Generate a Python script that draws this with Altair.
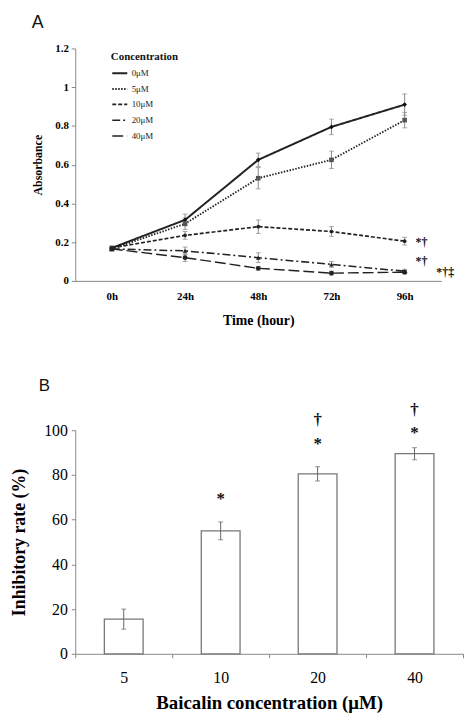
import altair as alt
import pandas as pd

# ---------------- Panel A data ----------------
times = ["0h", "24h", "48h", "72h", "96h"]
conc_labels = ["0μM", "5μM", "10μM", "20μM", "40μM"]
abs_0 = [0.17, 0.315, 0.625, 0.795, 0.91]
abs_5 = [0.165, 0.295, 0.53, 0.625, 0.83]
abs_10 = [0.17, 0.235, 0.28, 0.255, 0.205]
abs_20 = [0.165, 0.155, 0.12, 0.085, 0.05]
abs_40 = [0.165, 0.12, 0.065, 0.04, 0.045]
err_0 = [0.01, 0.03, 0.035, 0.04, 0.055]
err_5 = [0.01, 0.03, 0.055, 0.045, 0.04]
err_10 = [0.01, 0.02, 0.035, 0.025, 0.02]
err_20 = [0.01, 0.02, 0.025, 0.015, 0.01]
err_40 = [0.01, 0.02, 0.01, 0.01, 0.01]
sig_labels_a = ["*†", "*†"]
sig_y_a = [0.2, 0.10]
sig_label_a3 = ["*†‡"]
sig_y_a3 = [0.045]

# ---------------- Panel B data ----------------
baicalin = ["5", "10", "20", "40"]
inhib = [15.5, 55.0, 80.5, 89.5]
inhib_err = [4.5, 4.0, 3.2, 2.7]
sig_cat_b = ["10", "20", "20", "40", "40"]
sig_text_b = ["*", "*", "†", "*", "†"]
sig_y_b = [69, 94, 104.5, 98.7, 109]

SERIF = "Liberation Serif"
SANS = "Liberation Sans"

series_vals = [abs_0, abs_5, abs_10, abs_20, abs_40]
series_errs = [err_0, err_5, err_10, err_20, err_40]
rows = []
for lab, vals, errs in zip(conc_labels, series_vals, series_errs):
    for t, v, e in zip(times, vals, errs):
        rows.append({"time": t, "conc": lab, "value": v, "lo": v - e, "hi": v + e})
dfa = pd.DataFrame(rows)

dfa_sig = pd.DataFrame({"text": sig_labels_a, "y": sig_y_a, "time": ["96h"] * 2})
dfa_sig3 = pd.DataFrame({"text": sig_label_a3, "y": sig_y_a3, "time": ["96h"]})

axisXA = alt.Axis(title="Time (hour)", labelAngle=0, ticks=False,
                  labelFont=SERIF, labelFontWeight="bold", labelFontSize=11,
                  labelPadding=10, titleFont=SERIF, titleFontWeight="bold",
                  titleFontSize=14, titlePadding=12, domainColor="#888")
axisYA = alt.Axis(title="Absorbance", values=[0, 0.2, 0.4, 0.6, 0.8, 1.0, 1.2],
                  format="~g", grid=False, tickSize=4, tickColor="#888",
                  labelOverlap=False, domainColor="#888", labelFont=SERIF,
                  labelFontWeight="bold", labelFontSize=11, labelPadding=3,
                  titleFont=SERIF, titleFontWeight="bold", titleFontSize=12,
                  titlePadding=10)
scaleXA = alt.Scale(type="point", padding=0.5)
scaleYA = alt.Scale(domain=[0, 1.2], nice=False)


def xa():
    return alt.X("time:N", sort=times, scale=scaleXA, axis=axisXA)


def ya(field):
    return alt.Y(field, scale=scaleYA, axis=axisYA)


dash_scale = alt.Scale(domain=conc_labels,
                       range=[[1, 0], [1.5, 1.5], [4, 2], [8, 3, 2, 3], [11, 4]])
width_scale = alt.Scale(domain=conc_labels, range=[2, 1.4, 2, 2, 2])
point_shapes = ["diamond", "square", "circle", "triangle-up", "circle"]
point_colors = ["#111111", "#555555", "#222222", "#222222", "#222222"]
point_sizes = [22, 22, 14, 22, 24]

legend = alt.Legend(title="Concentration", orient="none", legendX=36, legendY=3,
                    titleFont=SERIF, titleFontWeight="bold", titleFontSize=11,
                    labelFont=SERIF, labelFontSize=9, symbolType="stroke",
                    symbolSize=230, symbolStrokeWidth=2, symbolStrokeColor="#222",
                    rowPadding=2, titlePadding=2, labelOffset=3, labelColor="#222",
                    titleColor="#111")

lines = alt.Chart(dfa).mark_line(color="#222").encode(
    x=xa(), y=ya("value:Q"),
    strokeDash=alt.StrokeDash("conc:N", scale=dash_scale, sort=conc_labels, legend=legend),
    strokeWidth=alt.StrokeWidth("conc:N", scale=width_scale, legend=None),
)
point_layers = []
for lab, shp, col, sz in zip(conc_labels, point_shapes, point_colors, point_sizes):
    point_layers.append(
        alt.Chart(dfa).transform_filter(alt.datum.conc == lab)
        .mark_point(filled=True, size=sz, opacity=1, shape=shp, color=col)
        .encode(x=xa(), y=ya("value:Q"))
    )
ebars = alt.Chart(dfa).mark_rule(color="#888", strokeWidth=1).encode(
    x=xa(), y=ya("lo:Q"), y2="hi:Q")
caps_lo = alt.Chart(dfa).mark_tick(color="#888", thickness=1, size=5).encode(
    x=xa(), y=ya("lo:Q"))
caps_hi = alt.Chart(dfa).mark_tick(color="#888", thickness=1, size=5).encode(
    x=xa(), y=ya("hi:Q"))
sig_a = alt.Chart(dfa_sig).mark_text(font=SERIF, fontWeight="bold", fontSize=12,
                                     align="left", baseline="middle", color="#111",
                                     dx=11).encode(
    x=xa(), y=ya("y:Q"), text="text:N")
sig_a3 = alt.Chart(dfa_sig3).mark_text(font=SERIF, fontWeight="bold", fontSize=12,
                                       align="left", baseline="middle", color="#111",
                                       dx=32).encode(
    x=xa(), y=ya("y:Q"), text="text:N")

panelA = alt.layer(ebars, caps_lo, caps_hi, lines, *point_layers, sig_a, sig_a3).properties(
    width=370, height=235,
    title=alt.TitleParams("A", anchor="start", frame="group", font=SANS, fontSize=18,
                          fontWeight="normal", dx=-44, offset=11, color="#111"))

# ---------------- Panel B ----------------
dfb = pd.DataFrame({"conc": baicalin, "rate": inhib,
                    "lo": [v - e for v, e in zip(inhib, inhib_err)],
                    "hi": [v + e for v, e in zip(inhib, inhib_err)]})
dfb_sig = pd.DataFrame({"conc": sig_cat_b, "text": sig_text_b, "y": sig_y_b})

axisXB = alt.Axis(title="Baicalin concentration (μM)", labelAngle=0,
                  tickBand="extent", tickSize=4, tickColor="#888",
                  domainColor="#888", labelFont=SERIF, labelFontSize=16,
                  labelPadding=12, titleFont=SERIF, titleFontWeight="bold",
                  titleFontSize=19, titlePadding=8)
axisYB = alt.Axis(title="Inhibitory rate (%)", values=[0, 20, 40, 60, 80, 100],
                  grid=False, tickSize=4, tickColor="#888", domainColor="#888",
                  labelFont=SERIF, labelFontSize=16, labelPadding=4,
                  titleFont=SERIF, titleFontWeight="bold", titleFontSize=18,
                  titlePadding=15)
scaleXB = alt.Scale(type="band", paddingInner=0, paddingOuter=0)
scaleYB = alt.Scale(domain=[0, 100], nice=False)


def xb():
    return alt.X("conc:N", sort=baicalin, scale=scaleXB, axis=axisXB)


def yb(field):
    return alt.Y(field, scale=scaleYB, axis=axisYB)


bars = alt.Chart(dfb).mark_bar(fill="white", stroke="#777", strokeWidth=1.3,
                               width=alt.RelativeBandSize(0.4)).encode(x=xb(), y=yb("rate:Q"))
ebB = alt.Chart(dfb).mark_rule(color="#666", strokeWidth=1).encode(
    x=xb(), y=yb("lo:Q"), y2="hi:Q")
capB_lo = alt.Chart(dfb).mark_tick(color="#666", thickness=1, size=5).encode(
    x=xb(), y=yb("lo:Q"))
capB_hi = alt.Chart(dfb).mark_tick(color="#666", thickness=1, size=5).encode(
    x=xb(), y=yb("hi:Q"))
sig_b = alt.Chart(dfb_sig).mark_text(font=SERIF, fontWeight="bold", fontSize=17,
                                     baseline="middle", color="#111").encode(
    x=xb(), y=yb("y:Q"), text="text:N")

panelB = alt.layer(bars, ebB, capB_lo, capB_hi, sig_b).properties(
    width=392, height=226,
    title=alt.TitleParams("B", anchor="start", frame="group", font=SANS, fontSize=17,
                          fontWeight="normal", dx=-37, offset=6, color="#111"))

chart = alt.vconcat(panelA, panelB, spacing=50).properties(
    padding={"left": 3, "top": 2, "right": 0, "bottom": 0},
    background="white",
).configure_view(stroke=None)

chart.save("out.html", embed_options={"renderer": "svg", "actions": False})
